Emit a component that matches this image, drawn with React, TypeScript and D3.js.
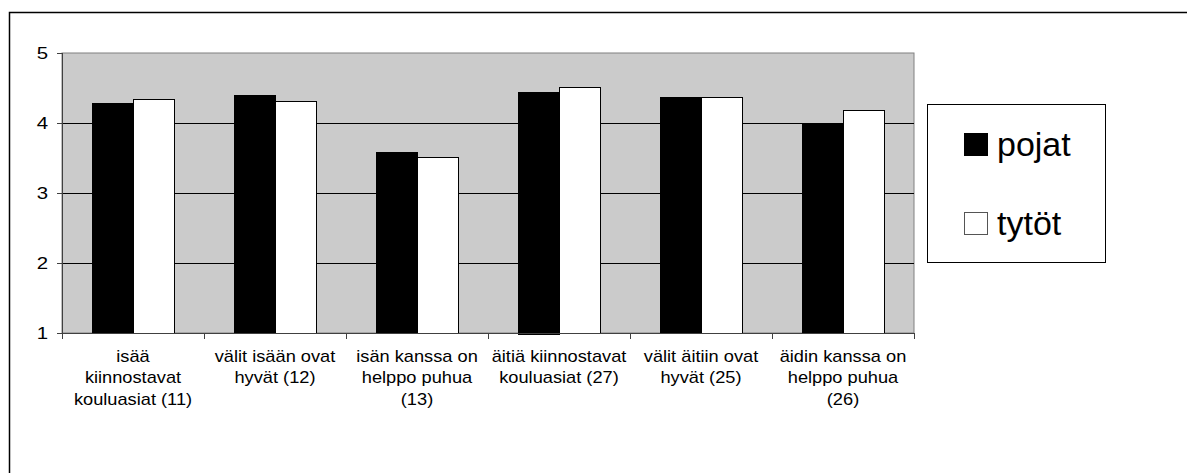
import React from 'react';
import * as d3 from 'd3';

// chart values
const categories = [
  ['isää', 'kiinnostavat', 'kouluasiat (11)'],
  ['välit isään ovat', 'hyvät (12)'],
  ['isän kanssa on', 'helppo puhua', '(13)'],
  ['äitiä kiinnostavat', 'kouluasiat (27)'],
  ['välit äitiin ovat', 'hyvät (25)'],
  ['äidin kanssa on', 'helppo puhua', '(26)'],
];
const pojat = [4.29, 4.4, 3.59, 4.45, 4.37, 3.99];
const tytot = [4.35, 4.32, 3.51, 4.51, 4.37, 4.18];
const seriesNames = ['pojat', 'tytöt'];
const seriesFill = ['#000000', '#ffffff'];
const yTicks = [1, 2, 3, 4, 5];

const W = 1187;
const H = 473;
const plot = { left: 62, right: 914, top: 53, bottom: 333 };
const font = '"Liberation Sans", Arial, sans-serif';

export default function App() {
  const x = d3.scaleBand<number>()
    .domain(categories.map((_, i) => i))
    .range([plot.left, plot.right])
    .paddingInner(0)
    .paddingOuter(0);
  const inner = d3.scaleBand<number>()
    .domain([0, 1])
    .range([0, x.bandwidth()])
    .paddingOuter(0.73)
    .paddingInner(0);
  const y = d3.scaleLinear().domain([1, 5]).range([plot.bottom, plot.top]);

  const series = [pojat, tytot];
  const boundaries = d3.range(categories.length + 1).map(i => plot.left + i * x.step());

  return (
    <svg width={W} height={H} style={{ position: 'absolute', left: 0, top: 0, background: '#fff' }}>
      {/* outer chart frame, runs off the right and bottom */}
      <rect x={9.5} y={12.5} width={1300} height={600} fill="#fff" stroke="#000" strokeWidth={1.5} />

      {/* plot area */}
      <rect x={plot.left} y={plot.top} width={plot.right - plot.left} height={plot.bottom - plot.top}
        fill="#cbcbcb" stroke="#808080" strokeWidth={1} />

      {yTicks.filter(t => t > 1 && t < 5).map(t => (
        <line key={t} x1={plot.left} x2={plot.right} y1={Math.round(y(t)) + 0.5} y2={Math.round(y(t)) + 0.5}
          stroke="#000" strokeWidth={1} />
      ))}

      {series.map((vals, s) =>
        vals.map((v, i) => (
          <rect key={`${s}-${i}`}
            x={Math.round(x(i)! + inner(s)!) + 0.5}
            y={Math.round(y(v)) + 0.5}
            width={Math.round(inner.bandwidth())}
            height={Math.round(y(1) - y(v))}
            fill={seriesFill[s]} stroke="#000" strokeWidth={1} />
        ))
      )}

      {/* y axis */}
      <line x1={plot.left + 0.5} x2={plot.left + 0.5} y1={plot.top} y2={plot.bottom} stroke="#404040" />
      {yTicks.map(t => (
        <g key={t} transform={`translate(0,${Math.round(y(t)) + 0.5})`}>
          <line x1={57} x2={plot.left} stroke="#404040" />
          <text x={0} y={0} transform="translate(48,0) scale(1.2,1)" textAnchor="end" dominantBaseline="central"
            fontFamily={font} fontSize={17} fill="#000">{t}</text>
        </g>
      ))}

      {/* x axis */}
      <line x1={plot.left} x2={plot.right} y1={plot.bottom + 0.5} y2={plot.bottom + 0.5} stroke="#404040" />
      {boundaries.map((b, i) => (
        <line key={i} x1={Math.round(b) + 0.5} x2={Math.round(b) + 0.5} y1={plot.bottom} y2={plot.bottom + 6} stroke="#404040" />
      ))}
      {categories.map((lines, i) => (
        <g key={i} transform={`translate(${x(i)! + x.bandwidth() / 2},362) scale(1.14,1)`}>
          {lines.map((ln, k) => (
            <text key={k} x={0} y={k * 21.5} textAnchor="middle" fontFamily={font} fontSize={16} fill="#000">{ln}</text>
          ))}
        </g>
      ))}

      {/* legend */}
      <rect x={927.5} y={104.5} width={178} height={158} fill="#fff" stroke="#000" strokeWidth={1} />
      {seriesNames.map((name, s) => {
        const cy = 144.5 + s * 79;
        return (
          <g key={name}>
            <rect x={964.5} y={cy - 11} width={23} height={22} fill={seriesFill[s]} stroke={s ? '#555' : '#000'} strokeWidth={1} />
            <text x={997} y={cy + 11} fontFamily={font} fontSize={34} fill="#000">{name}</text>
          </g>
        );
      })}
    </svg>
  );
}
